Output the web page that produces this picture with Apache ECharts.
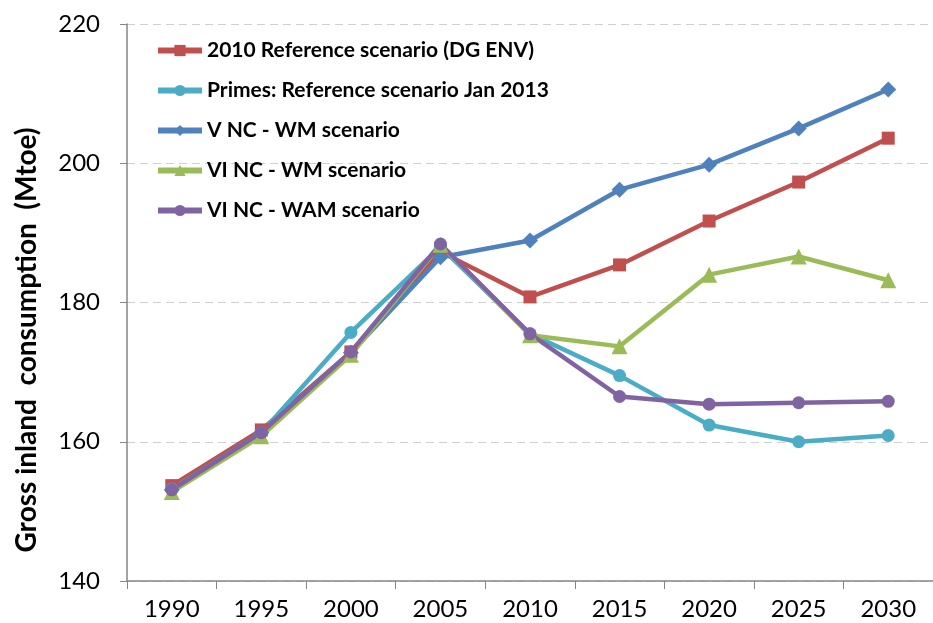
<!DOCTYPE html>
<html lang="en">
<head>
    <meta charset="UTF-8">
    <title>Gross inland consumption</title>
    <script type="text/javascript" src="https://cdn.jsdelivr.net/npm/echarts@6/dist/echarts.min.js"></script>
    <style>
        html, body { margin: 0; padding: 0; background: #fff; }
        #main { width: 933px; height: 623px; }
    </style>
</head>
<body>
    <div id="main"></div>
<script>
    // years on the x axis
    var years = ['1990', '1995', '2000', '2005', '2010', '2015', '2020', '2025', '2030'];
    // Mtoe values
    var ref2010 = [153.7, 161.7, 172.9, 187.3, 180.8, 185.4, 191.7, 197.3, 203.6];
    var primes2013 = [153.2, 161.3, 175.7, 188.0, 175.5, 169.5, 162.4, 160.0, 160.9];
    var vncWM = [153.1, 161.3, 172.8, 186.5, 188.9, 196.2, 199.8, 205.0, 210.6];
    var vincWM = [152.8, 160.8, 172.5, 188.3, 175.3, 173.7, 184.0, 186.6, 183.2];
    var vincWAM = [153.1, 161.3, 172.9, 188.4, 175.5, 166.5, 165.4, 165.6, 165.8];
    var yTicks = [140, 160, 180, 200, 220];

    var chart = echarts.init(document.getElementById('main'));
    var font = 'Lato, "Open Sans", sans-serif';

    function line(name, data, color, symbol, size) {
        return {
            name: name,
            type: 'line',
            data: data,
            symbol: symbol,
            symbolSize: size,
            lineStyle: { color: color, width: 4.5 },
            itemStyle: { color: color },
            emphasis: { disabled: true }
        };
    }

    var option = {
        animation: false,
        textStyle: { fontFamily: font },
        legend: {
            orient: 'vertical',
            left: 150,
            top: 35,
            itemGap: 19,
            itemWidth: 44,
            itemHeight: 14,
            lineStyle: { width: 6 },
            textStyle: { fontSize: 21, fontWeight: 'bold', color: '#000', fontFamily: font },
            data: ['2010 Reference scenario (DG ENV)', 'Primes: Reference scenario Jan 2013',
                'V NC - WM scenario', 'VI NC - WM scenario', 'VI NC - WAM scenario']
        },
        graphic: [{
            type: 'text',
            x: 27,
            y: 340,
            rotation: Math.PI / 2,
            style: {
                text: 'Gross inland  consumption  (Mtoe)',
                font: 'bold 28px ' + font,
                fill: '#000',
                align: 'center',
                verticalAlign: 'middle'
            }
        }],
        grid: { left: 127, top: 24, bottom: 42, width: 814 },
        xAxis: {
            type: 'category',
            data: years,
            boundaryGap: true,
            axisLine: { lineStyle: { color: '#868686', width: 1.5 } },
            axisTick: { show: true, length: 8, lineStyle: { color: '#868686' } },
            axisLabel: { fontSize: 24, color: '#000', margin: 16, fontFamily: font }
        },
        yAxis: {
            type: 'value',
            min: yTicks[0],
            max: yTicks[yTicks.length - 1],
            interval: 20,
            axisLine: { show: true, lineStyle: { color: '#868686', width: 1.5 } },
            axisTick: { show: true, length: 7, lineStyle: { color: '#868686' } },
            axisLabel: { fontSize: 24, color: '#000', margin: 27, fontFamily: font },
            splitLine: { lineStyle: { color: '#d0d0d0', type: [8, 5], width: 1.2 } }
        },
        series: [
            line('2010 Reference scenario (DG ENV)', ref2010, '#C0504D', 'rect', 13),
            line('Primes: Reference scenario Jan 2013', primes2013, '#4BACC6', 'circle', 13),
            line('V NC - WM scenario', vncWM, '#4F81BD', 'diamond', 16),
            line('VI NC - WM scenario', vincWM, '#9BBB59', 'triangle', 16),
            line('VI NC - WAM scenario', vincWAM, '#8064A2', 'circle', 13)
        ]
    };
    chart.setOption(option);
    window.onresize = function () {
        chart.resize();
    };
</script>
</body>
</html>
